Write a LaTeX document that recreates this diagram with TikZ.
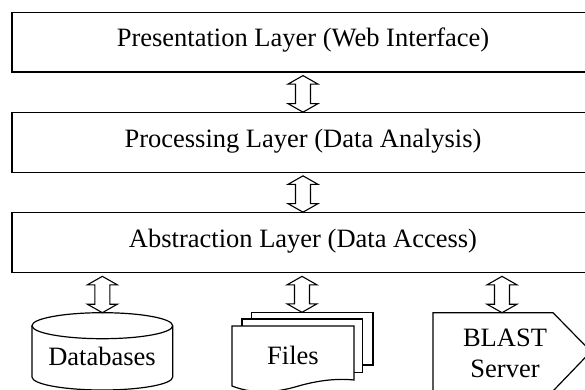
\documentclass[tikz,border=0pt]{standalone}
\usepackage{fontspec}
\setmainfont{Liberation Serif}
\usetikzlibrary{calc}
\tikzset{
  outline/.style={draw=black, line width=1.2pt, line join=miter},
  layer/.style={outline, minimum width=582pt, minimum height=59.5pt, inner sep=0pt,
    text height=18pt, text depth=9pt, font=\fontsize{26.5}{31}\selectfont},
  lbl/.style={inner sep=0pt, align=center, font=\fontsize{26.5}{31}\selectfont},
  dblarrowline/.style={draw=black, line width=1.1pt, fill=white, line join=miter},
}
\newcommand\dblarrow[3]{%
  \draw[dblarrowline] let \p1=(#1), \p2=(#2) in
    (\x1,\y1-#3) -- (\x1+15pt,\y1-#3-8.5pt) -- (\x1+7.5pt,\y1-#3-8.5pt)
    -- (\x1+7.5pt,\y2+8.5pt) -- (\x1+15pt,\y2+8.5pt) -- (\x1,\y2)
    -- (\x1-15pt,\y2+8.5pt) -- (\x1-7.5pt,\y2+8.5pt)
    -- (\x1-7.5pt,\y1-#3-8.5pt) -- (\x1-15pt,\y1-#3-8.5pt) -- cycle;}
\begin{document}
\begin{tikzpicture}[x=1pt, y=-1pt]
\useasboundingbox (0,0) rectangle (585,390);
\clip (0,0) rectangle (585,390);
% layers
\node[layer] (pres) at (303,42.25) {Presentation Layer (Web Interface)};
\node[layer] (proc) at (303,142.5) {Processing Layer (Data Analysis)};
\node[layer] (abst) at (303,242.5) {Abstraction Layer (Data Access)};
% databases cylinder
\coordinate (dbtop) at (102.35,312.7);
\draw[outline, fill=white] (32,325.7) -- (32,377) arc[start angle=180, end angle=0, x radius=70.35, y radius=13] -- (172.7,325.7) arc[start angle=0, end angle=-180, x radius=70.35, y radius=13] -- cycle;
\draw[outline] (32,325.7) arc[start angle=180, end angle=0, x radius=70.35, y radius=13];
\node[lbl] (db) at (102,356) {Databases};
% files
\coordinate (filestop) at (302,312.3);
\draw[outline, fill=white] (251.7,312.3) rectangle (373,365);
\draw[outline, fill=white] (242,319) rectangle (362.7,372.7);
\draw[outline, fill=white] (232,326) -- (354,326) -- (354,380)
   .. controls (335,378) and (315,381) .. (295,387)
   .. controls (270,394) and (250,393) .. (232,386) -- cycle;
\node[lbl] (files) at (293,355.5) {Files};
% BLAST server
\coordinate (blasttop) at (502,312.7);
\draw[outline, fill=white] (433,312.7) -- (553,312.7) -- (591,351.5) -- (553,391) -- (433,391) -- cycle;
\node[lbl] (blast) at (505,353.5) {BLAST\\Server};
% arrows
\dblarrow{pres.south}{proc.north}{3pt}
\dblarrow{proc.south}{abst.north}{3pt}
\dblarrow{abst.south -| dbtop}{dbtop}{3.5pt}
\dblarrow{abst.south -| filestop}{filestop}{3.5pt}
\dblarrow{abst.south -| blasttop}{blasttop}{3.5pt}
\end{tikzpicture}
\end{document}
